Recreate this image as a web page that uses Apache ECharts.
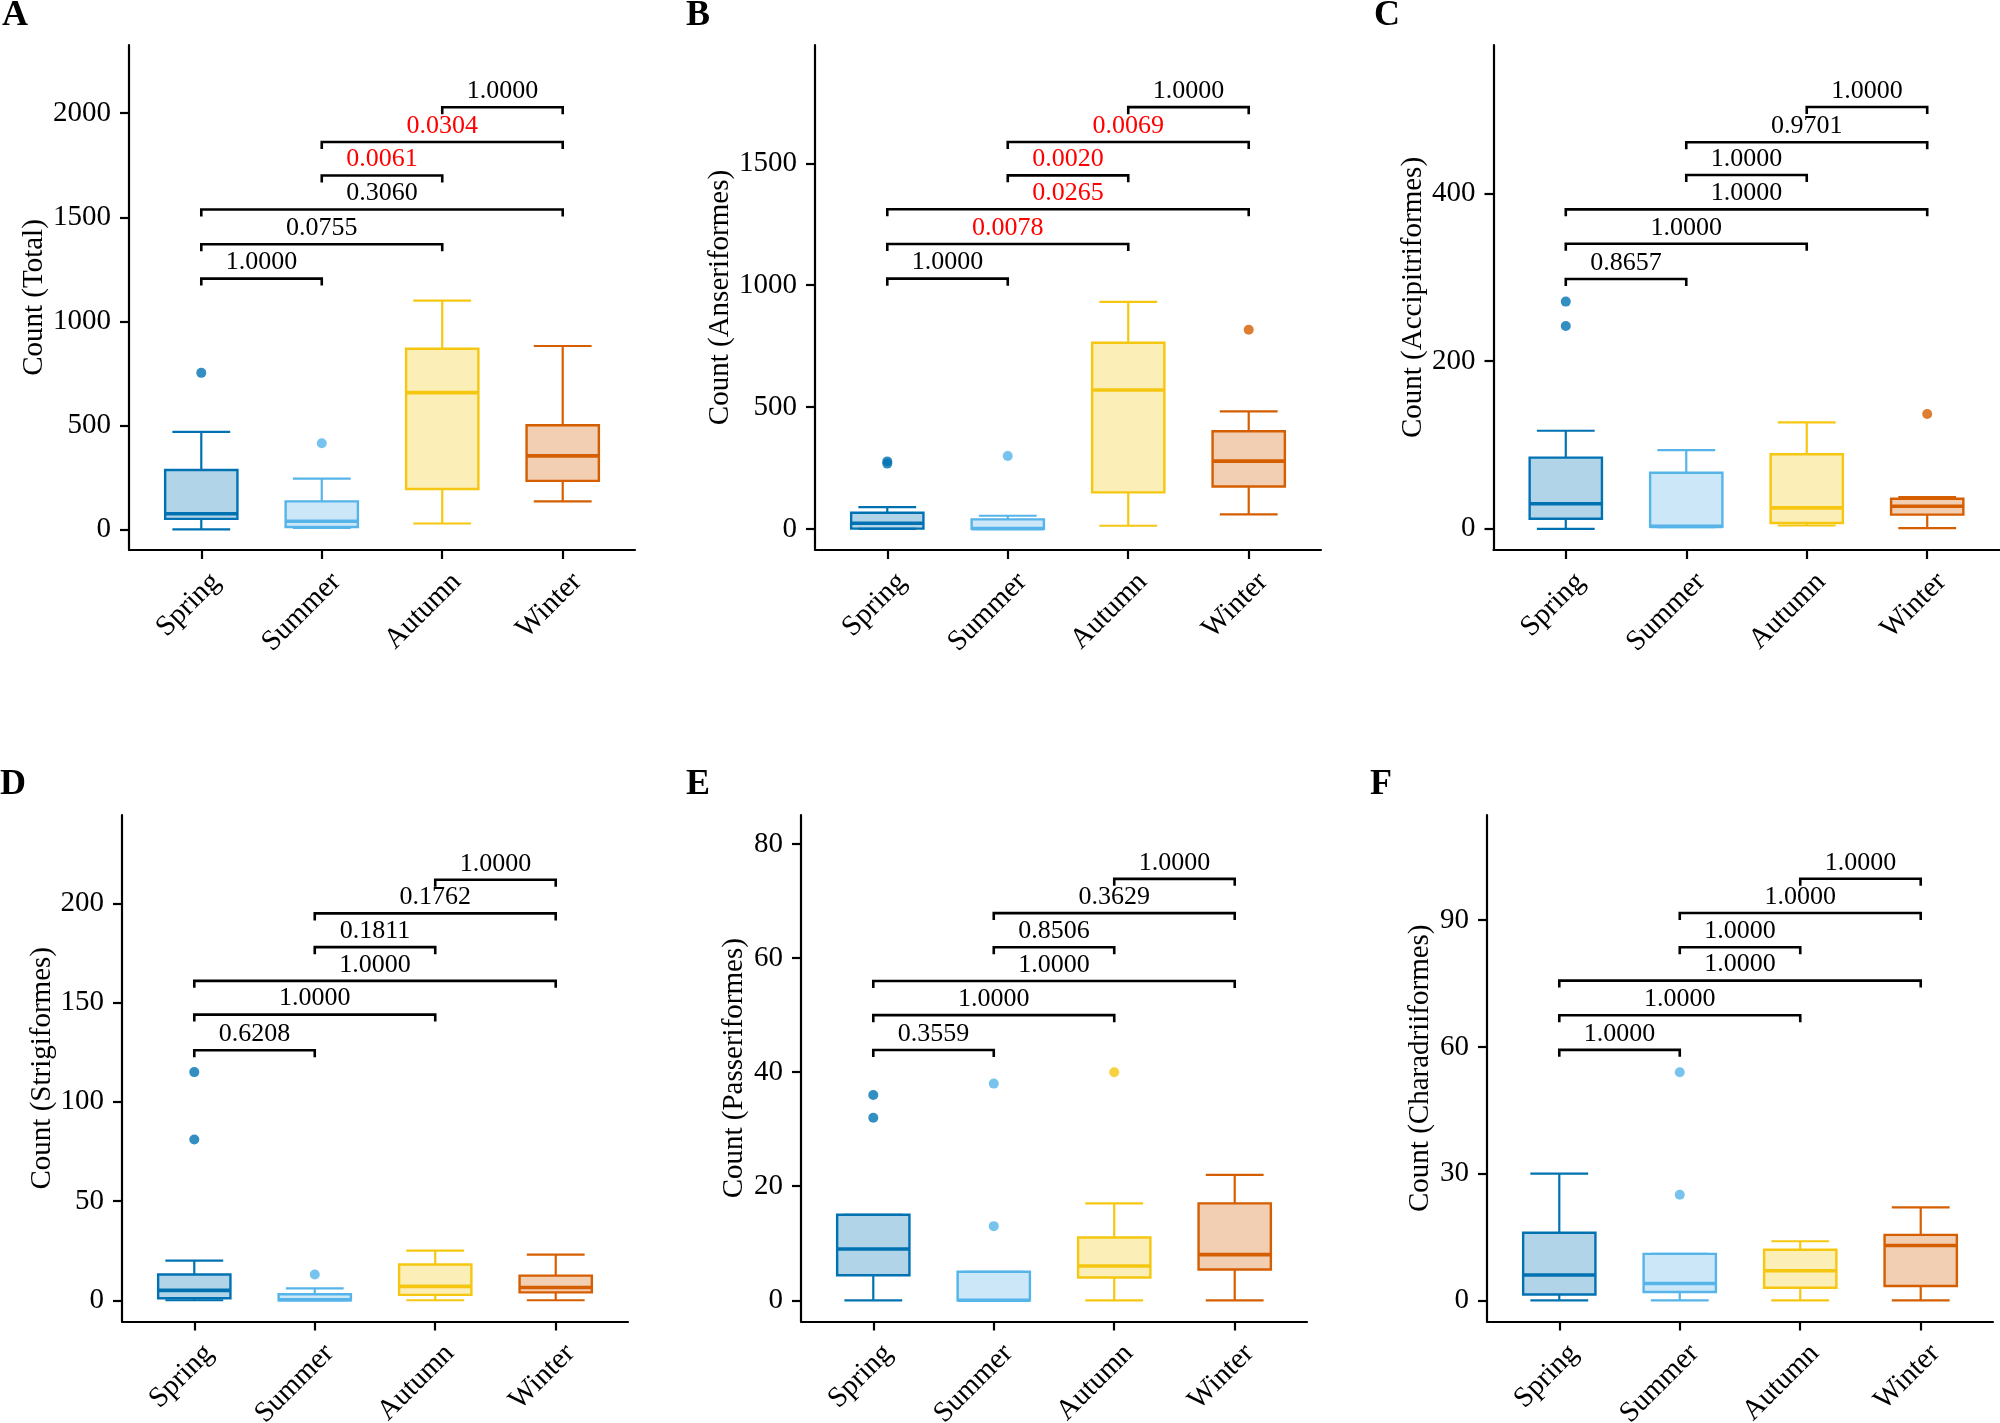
<!DOCTYPE html>
<html>
<head>
<meta charset="utf-8">
<script src="https://cdn.jsdelivr.net/npm/echarts@6/dist/echarts.min.js"></script>
<style>
html,body{margin:0;padding:0;background:#fff;}
#chart{width:2000px;height:1423px;}
</style>
</head>
<body>
<div id="chart"></div>
<script>
// ---------------- DATA ----------------
const seasons = ['Spring', 'Summer', 'Autumn', 'Winter'];
const seasonColors = ['#0072B2', '#56B4E9', '#F5C710', '#D55E00'];
const panelLetters = ['A', 'B', 'C', 'D', 'E', 'F'];
const yTitles = ['Count (Total)', 'Count (Anseriformes)', 'Count (Accipitriformes)',
                 'Count (Strigiformes)', 'Count (Passeriformes)', 'Count (Charadriiformes)'];
// comparison pairs (season positions 1..4), bottom to top
const pairs = [[1, 2], [1, 3], [1, 4], [2, 3], [2, 4], [3, 4]];

// box stats per season: [lower whisker, Q1, median, Q3, upper whisker]
const totalBox = [[0, 50, 75, 285, 468], [7, 11, 39, 134, 244], [28, 194, 657, 868, 1099], [134, 233, 353, 500, 881]];
const totalOut = [[752], [414], [], []];
const totalP = ['1.0000', '0.0755', '0.3060', '0.0061', '0.0304', '1.0000'];
const totalBracketY = [1205, 1370, 1537, 1701, 1862, 2029];
const totalTicks = [0, 500, 1000, 1500, 2000];
const totalRange = [-99.5, 2328];

const anserBox = [[0, 1, 23, 66, 89], [0, 0, 1, 39, 54], [13, 150, 570, 764, 932], [60, 174, 278, 401, 482]];
const anserOut = [[268, 277], [299], [], [817]];
const anserP = ['1.0000', '0.0078', '0.0265', '0.0020', '0.0069', '1.0000'];
const anserBracketY = [1027, 1169, 1312, 1451, 1588, 1731];
const anserTicks = [0, 500, 1000, 1500];
const anserRange = [-86.6, 1986];

const accipBox = [[0, 12, 30, 85, 117], [2, 2.5, 3, 67, 94], [4, 7, 25, 89, 127], [1, 17, 27, 36, 38]];
const accipOut = [[271, 242], [], [], [137]];
const accipP = ['0.8657', '1.0000', '1.0000', '1.0000', '0.9701', '1.0000'];
const accipBracketY = [298, 340, 381, 422, 461, 503];
const accipTicks = [0, 200, 400];
const accipRange = [-25.2, 577];

const strigBox = [[0, 1, 5, 13, 20], [0, 0, 0.3, 3, 6], [0, 2.7, 7, 18, 25], [0, 4, 6.4, 12.4, 23]];
const strigOut = [[115, 81], [13], [], []];
const strigP = ['0.6208', '1.0000', '1.0000', '0.1811', '0.1762', '1.0000'];
const strigBracketY = [126, 144, 161, 178, 195, 212];
const strigTicks = [0, 50, 100, 150, 200];
const strigRange = [-10.7, 244.6];

const passerBox = [[0, 4.4, 9, 15, 15], [0, 0, 0, 5, 5], [0, 4, 6, 11, 17], [0, 5.4, 8, 17, 22]];
const passerOut = [[36, 32], [38, 13], [40], []];
const passerP = ['0.3559', '1.0000', '1.0000', '0.8506', '0.3629', '1.0000'];
const passerBracketY = [43.9, 50, 56, 61.9, 67.9, 73.9];
const passerTicks = [0, 20, 40, 60, 80];
const passerRange = [-3.72, 85.1];

const charaBox = [[0, 1.4, 6, 16, 30], [0, 2, 4, 11, 11], [0, 3, 7, 12, 14], [0, 3.4, 13, 15.5, 22]];
const charaOut = [[], [54, 25], [], []];
const charaP = ['1.0000', '1.0000', '1.0000', '1.0000', '1.0000', '1.0000'];
const charaBracketY = [59.3, 67.5, 75.7, 83.6, 91.7, 99.8];
const charaTicks = [0, 30, 60, 90];
const charaRange = [-5.0, 114.9];

// ---------------- LAYOUT / STYLE ----------------
const panels = [
  {box: totalBox, out: totalOut, p: totalP, by: totalBracketY, ticks: totalTicks, range: totalRange,
   grid: {left: 129, top: 45, width: 506, height: 505}, nameGap: 72, letter: [2, -2]},
  {box: anserBox, out: anserOut, p: anserP, by: anserBracketY, ticks: anserTicks, range: anserRange,
   grid: {left: 815, top: 45, width: 506, height: 505}, nameGap: 68, letter: [686, -2]},
  {box: accipBox, out: accipOut, p: accipP, by: accipBracketY, ticks: accipTicks, range: accipRange,
   grid: {left: 1493.5, top: 45, width: 506, height: 505}, nameGap: 65, letter: [1374, -2]},
  {box: strigBox, out: strigOut, p: strigP, by: strigBracketY, ticks: strigTicks, range: strigRange,
   grid: {left: 122, top: 815, width: 506, height: 506.5}, nameGap: 64, letter: [0, 767]},
  {box: passerBox, out: passerOut, p: passerP, by: passerBracketY, ticks: passerTicks, range: passerRange,
   grid: {left: 801, top: 815, width: 506, height: 506.5}, nameGap: 52, letter: [686, 767]},
  {box: charaBox, out: charaOut, p: charaP, by: charaBracketY, ticks: charaTicks, range: charaRange,
   grid: {left: 1487, top: 815, width: 506, height: 506.5}, nameGap: 52, letter: [1370, 767]}
];

const FONT = "'Liberation Serif', 'Times New Roman', serif";
const BOX_W = 0.6, CAP_W = 0.48;

function alphaColor(hex, a) {
  const r = parseInt(hex.slice(1, 3), 16), g = parseInt(hex.slice(3, 5), 16), b = parseInt(hex.slice(5, 7), 16);
  return 'rgba(' + r + ',' + g + ',' + b + ',' + a + ')';
}

function boxRender(params, api) {
  const x = api.value(0);
  const lo = api.coord([x, api.value(1)]);
  const q1 = api.coord([x, api.value(2)]);
  const md = api.coord([x, api.value(3)]);
  const q3 = api.coord([x, api.value(4)]);
  const hi = api.coord([x, api.value(5)]);
  const cx = lo[0];
  const bw = api.size([BOX_W, 0])[0];
  const cw = api.size([CAP_W, 0])[0];
  const c = seasonColors[params.dataIndex];
  const ls = {stroke: c, lineWidth: 2.2, fill: null};
  return {
    type: 'group',
    children: [
      {type: 'line', shape: {x1: cx, y1: lo[1], x2: cx, y2: q1[1]}, style: ls},
      {type: 'line', shape: {x1: cx, y1: q3[1], x2: cx, y2: hi[1]}, style: ls},
      {type: 'line', shape: {x1: cx - cw / 2, y1: lo[1], x2: cx + cw / 2, y2: lo[1]}, style: ls},
      {type: 'line', shape: {x1: cx - cw / 2, y1: hi[1], x2: cx + cw / 2, y2: hi[1]}, style: ls},
      {type: 'rect', shape: {x: cx - bw / 2, y: q3[1], width: bw, height: q1[1] - q3[1]},
       style: {fill: alphaColor(c, 0.3), stroke: c, lineWidth: 2.4}},
      {type: 'line', shape: {x1: cx - bw / 2, y1: md[1], x2: cx + bw / 2, y2: md[1]},
       style: {stroke: c, lineWidth: 3.6}}
    ]
  };
}

function makeBracketRender(labels) {
  return function (params, api) {
    const p1 = api.coord([api.value(0), api.value(2)]);
    const p2 = api.coord([api.value(1), api.value(2)]);
    const tick = 7;
    const lab = labels[params.dataIndex];
    const col = parseFloat(lab) < 0.05 ? '#FF0000' : '#000000';
    return {
      type: 'group',
      children: [
        {type: 'polyline', shape: {points: [[p1[0], p1[1] + tick], [p1[0], p1[1]], [p2[0], p2[1]], [p2[0], p2[1] + tick]]},
         style: {stroke: '#000', lineWidth: 2.6, fill: null}},
        {type: 'text', x: (p1[0] + p2[0]) / 2, y: p1[1] - 3,
         style: {text: lab, fontSize: 26, fontFamily: FONT, fill: col, align: 'center', verticalAlign: 'bottom'}}
      ]
    };
  };
}

const grids = [], xAxes = [], yAxes = [], series = [], graphics = [];
panels.forEach((pn, i) => {
  grids.push(Object.assign({containLabel: false, outerBoundsMode: 'none'}, pn.grid));
  xAxes.push({
    type: 'value', gridIndex: i, min: 0.4, max: 4.6,
    splitLine: {show: false},
    axisLine: {show: true, onZero: false, lineStyle: {color: '#000', width: 2.2}},
    axisTick: {show: true, customValues: [1, 2, 3, 4], length: 9, lineStyle: {color: '#000', width: 2.2}},
    axisLabel: {
      customValues: [1, 2, 3, 4], formatter: v => seasons[Math.round(v) - 1],
      rotate: 45, align: 'right', verticalAlign: 'top', padding: [6, 0, 0, 0], margin: 13,
      fontSize: 29, fontFamily: FONT, color: '#000'
    }
  });
  yAxes.push({
    type: 'value', gridIndex: i, min: pn.range[0], max: pn.range[1],
    splitLine: {show: false},
    axisLine: {show: true, onZero: false, lineStyle: {color: '#000', width: 2.2}},
    axisTick: {show: true, customValues: pn.ticks, length: 9, lineStyle: {color: '#000', width: 2.2}},
    axisLabel: {customValues: pn.ticks, formatter: v => String(v), margin: 18, fontSize: 29, fontFamily: FONT, color: '#000'},
    name: yTitles[i], nameLocation: 'middle', nameGap: pn.nameGap,
    nameTextStyle: {fontSize: 29, fontFamily: FONT, color: '#000'}
  });
  series.push({
    type: 'custom', xAxisIndex: i, yAxisIndex: i,
    data: pn.box.map((b, k) => [k + 1].concat(b)),
    encode: {x: 0, y: [1, 2, 3, 4, 5]},
    renderItem: boxRender, silent: true
  });
  const outData = [];
  pn.out.forEach((arr, k) => arr.forEach(v => outData.push({value: [k + 1, v], itemStyle: {color: seasonColors[k]}})));
  series.push({
    type: 'scatter', xAxisIndex: i, yAxisIndex: i, data: outData,
    symbol: 'circle', symbolSize: 10, silent: true
  });
  series.push({
    type: 'custom', xAxisIndex: i, yAxisIndex: i,
    data: pairs.map((pr, k) => [pr[0], pr[1], pn.by[k]]),
    encode: {x: [0, 1], y: 2},
    renderItem: makeBracketRender(pn.p), silent: true
  });
  graphics.push({
    type: 'text', left: pn.letter[0], top: pn.letter[1],
    style: {text: panelLetters[i], fontSize: 36, fontWeight: 'bold', fontFamily: FONT, fill: '#000'}
  });
});

const chart = echarts.init(document.getElementById('chart'), null, {renderer: 'canvas'});
chart.setOption({
  animation: false,
  backgroundColor: '#ffffff',
  grid: grids,
  xAxis: xAxes,
  yAxis: yAxes,
  series: series,
  graphic: graphics
});
</script>
</body>
</html>
